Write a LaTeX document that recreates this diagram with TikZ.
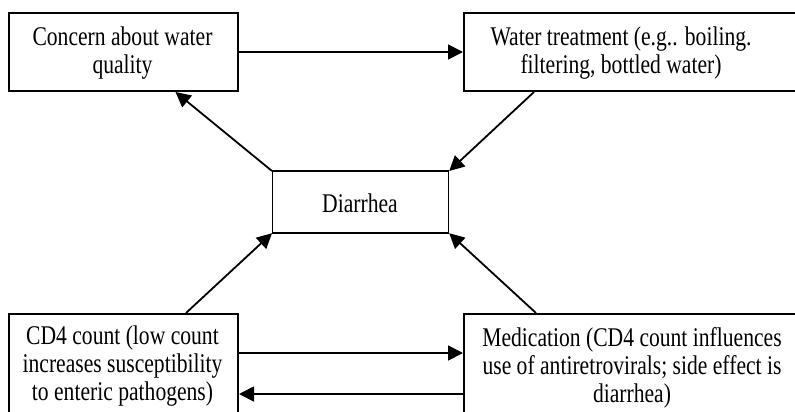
\documentclass[tikz,border=0pt]{standalone}
\usepackage{fontspec}
\setmainfont{Liberation Serif}[FakeStretch=0.8]
\usetikzlibrary{arrows.meta}
\begin{document}
\begin{tikzpicture}[x=1pt,y=-1pt,
  box/.style={draw=black, line width=2pt, fill=white, inner sep=0pt},
  txt/.style={align=center, inner sep=0pt, font=\fontsize{27}{28}\selectfont},
  link/.style={draw=black, line width=1.8pt, -{Triangle[length=15pt,width=15pt]}}]
\useasboundingbox (0,0) rectangle (795,412);
\clip (0,0) rectangle (795,412);

% boxes
\node[box, anchor=north west, minimum width=229pt, minimum height=78pt] (concern) at (8,12) {};
\node[txt] at (122.5,53) {Concern about water\\quality};

\node[box, anchor=north west, minimum width=340pt, minimum height=78pt] (water) at (463,12) {};
\node[txt] at (621,53) {Water treatment (e.g.. boiling.\\filtering, bottled water)};

\node[box, line width=1.2pt, anchor=north west, minimum width=176pt, minimum height=61pt] (diar) at (272,171) {};
\node[txt] at (360,203) {Diarrhea};
\draw[line width=2pt] (diar.north west) -- (diar.north east);
\draw[line width=2pt] (diar.south west) -- (diar.south east);

\node[box, anchor=north west, minimum width=229pt, minimum height=120pt] (cd4) at (8,313) {};
\node[txt] at (122.5,366) {CD4 count (low count\\increases susceptibility\\to enteric pathogens)};

\node[box, anchor=north west, minimum width=340pt, minimum height=120pt] (med) at (463,313) {};
\node[txt] at (632,368) {Medication (CD4 count influences\\use of antiretrovirals; side effect is\\diarrhea)};

% connectors
\draw[link] (concern.east) -- (water.west);
\draw[link] (diar.north west) -- ([xshift=52pt]concern.south);
\draw[link] ([xshift=-100pt]water.south) -- (diar.north east);
\draw[link] ([xshift=62.5pt]cd4.north) -- (diar.south west);
\draw[link] ([xshift=-98pt]med.north) -- (diar.south east);
\draw[link] ([yshift=21pt]cd4.east) -- ([yshift=21pt]med.west);
\draw[link] ([yshift=-20pt]med.west) -- ([yshift=-20pt]cd4.east);
\end{tikzpicture}
\end{document}
